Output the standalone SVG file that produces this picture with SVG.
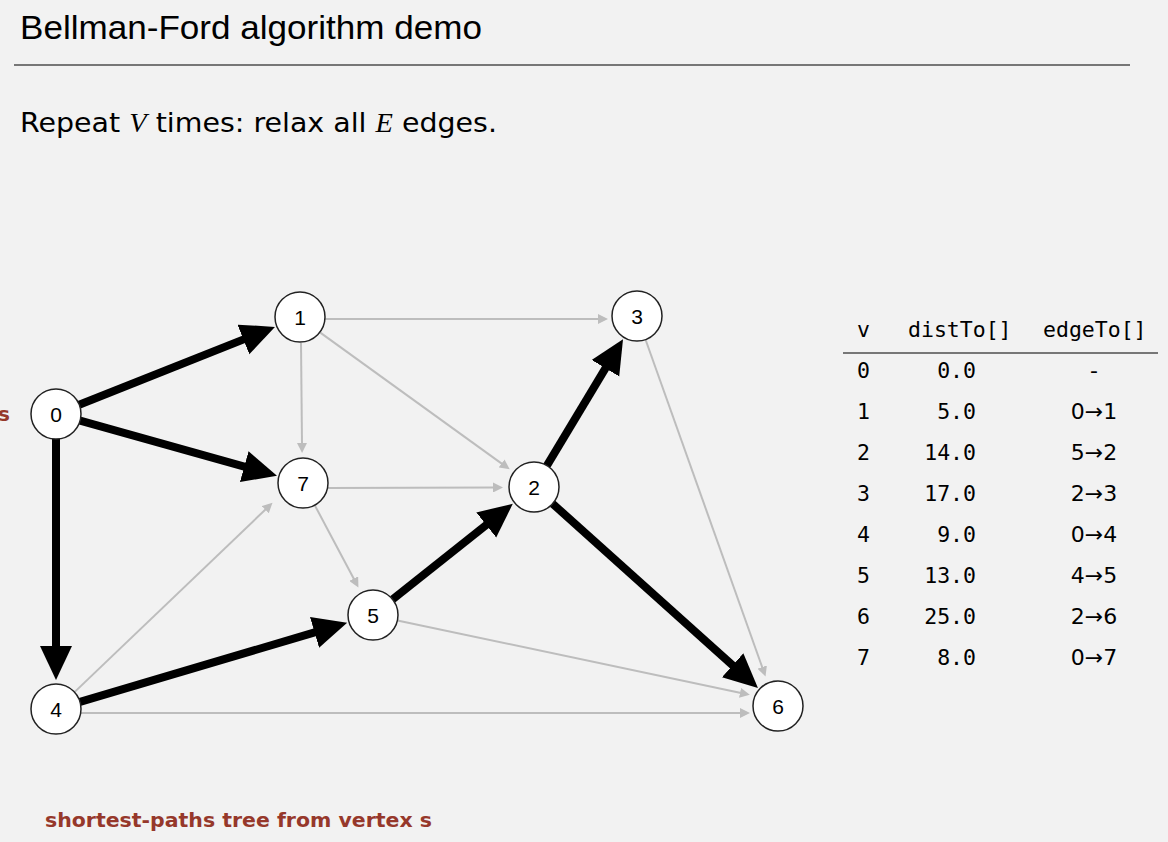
<svg xmlns="http://www.w3.org/2000/svg" width="1168" height="842" viewBox="0 0 1168 842">
<style>
.bg{fill:#f2f2f2}
.title{font-family:"Liberation Sans",Arial,sans-serif;font-size:34px;fill:#000}
.sub{font-family:"DejaVu Sans","Liberation Sans",sans-serif;font-size:27px;fill:#000}
.it{font-family:"Liberation Serif",serif;font-style:italic}
.red{font-family:"DejaVu Sans","Liberation Sans",sans-serif;font-weight:bold;fill:#96382b}
.node circle{fill:#fff;stroke:#222;stroke-width:1.5}
.node text{font-family:"Liberation Sans",Arial,sans-serif;font-size:21px;text-anchor:middle;fill:#000}
.g{stroke:#bdbdbd;stroke-width:2;fill:none;marker-end:url(#ag)}
.b{stroke:#000;stroke-width:8;fill:none;marker-end:url(#ab)}
.mono{font-family:"DejaVu Sans Mono","Liberation Mono",monospace;font-size:21.5px;fill:#000}
.et{font-family:"DejaVu Sans","Liberation Sans",sans-serif;font-size:22px;fill:#000;text-anchor:middle}
</style>
<defs>
<marker id="ab" markerUnits="userSpaceOnUse" markerWidth="36" markerHeight="34" refX="1" refY="16" orient="auto">
<path d="M0,0 L34,16 L0,32 z" fill="#000"/>
</marker>
<marker id="ag" markerUnits="userSpaceOnUse" markerWidth="12" markerHeight="10" refX="1" refY="5" orient="auto">
<path d="M0,0 L10,5 L0,10 z" fill="#bdbdbd"/>
</marker>
</defs>
<rect class="bg" x="0" y="0" width="1168" height="842"/>
<text class="title" x="20" y="39" textLength="462" lengthAdjust="spacingAndGlyphs">Bellman-Ford algorithm demo</text>
<line x1="14" y1="65" x2="1130" y2="65" stroke="#777" stroke-width="2"/>
<text class="sub" x="20" y="132" textLength="477" lengthAdjust="spacingAndGlyphs">Repeat <tspan class="it">V</tspan> times: relax all <tspan class="it">E</tspan> edges.</text>

<g id="connectors">
<line class="g" x1="325" y1="319" x2="599" y2="319"/>
<line class="g" x1="301" y1="343" x2="302" y2="444"/>
<line class="g" x1="320.3" y1="332.6" x2="502.4" y2="464.1"/>
<line class="g" x1="328" y1="488" x2="494" y2="487.5"/>
<line class="g" x1="314.7" y1="505.1" x2="354.2" y2="579.5"/>
<line class="g" x1="74.5" y1="692.1" x2="266" y2="509"/>
<line class="g" x1="397.4" y1="620.5" x2="741" y2="693"/>
<line class="g" x1="81" y1="713" x2="741" y2="713"/>
<line class="g" x1="645.5" y1="339.5" x2="762.5" y2="668"/>
<line class="b" x1="79.2" y1="404.8" x2="244.3" y2="339.1"/>
<line class="b" x1="80.1" y1="420.7" x2="245.2" y2="466.9"/>
<line class="b" x1="56" y1="439" x2="56" y2="647"/>
<line class="b" x1="80" y1="701.9" x2="315.5" y2="632.1"/>
<line class="b" x1="392.6" y1="599.4" x2="487" y2="524.3"/>
<line class="b" x1="546.9" y1="465.6" x2="606" y2="367.4"/>
<line class="b" x1="552.6" y1="503.7" x2="733.4" y2="665.9"/>
</g>

<g id="node0" class="node"><circle cx="56" cy="414" r="25"/><text x="56" y="421.5">0</text></g>
<g id="node1" class="node"><circle cx="300" cy="317" r="25"/><text x="300" y="324.5">1</text></g>
<g id="node2" class="node"><circle cx="534" cy="487" r="25"/><text x="534" y="494.5">2</text></g>
<g id="node3" class="node"><circle cx="637" cy="316" r="25"/><text x="637" y="323.5">3</text></g>
<g id="node4" class="node"><circle cx="56" cy="709" r="25"/><text x="56" y="716.5">4</text></g>
<g id="node5" class="node"><circle cx="373" cy="615" r="25"/><text x="373" y="622.5">5</text></g>
<g id="node6" class="node"><circle cx="778" cy="706" r="25"/><text x="778" y="713.5">6</text></g>
<g id="node7" class="node"><circle cx="303" cy="483" r="25"/><text x="303" y="490.5">7</text></g>

<text class="red" x="-2" y="421" font-size="20">s</text>

<g id="table">
<text class="mono" x="857" y="337">v</text>
<text class="mono" x="908" y="337">distTo[]</text>
<text class="mono" x="1043" y="337">edgeTo[]</text>
<line x1="843" y1="353" x2="1158" y2="353" stroke="#777" stroke-width="2"/>
<g class="mono">
<text x="857" y="378">0</text>
<text x="857" y="419">1</text>
<text x="857" y="460">2</text>
<text x="857" y="501">3</text>
<text x="857" y="542">4</text>
<text x="857" y="583">5</text>
<text x="857" y="624">6</text>
<text x="857" y="665">7</text>
</g>
<g class="mono" text-anchor="end">
<text x="976" y="378">0.0</text>
<text x="976" y="419">5.0</text>
<text x="976" y="460">14.0</text>
<text x="976" y="501">17.0</text>
<text x="976" y="542">9.0</text>
<text x="976" y="583">13.0</text>
<text x="976" y="624">25.0</text>
<text x="976" y="665">8.0</text>
</g>
<text class="et" x="1094" y="378">-</text>
<text class="et" x="1094" y="419">0→1</text>
<text class="et" x="1094" y="460">5→2</text>
<text class="et" x="1094" y="501">2→3</text>
<text class="et" x="1094" y="542">0→4</text>
<text class="et" x="1094" y="583">4→5</text>
<text class="et" x="1094" y="624">2→6</text>
<text class="et" x="1094" y="665">0→7</text>
</g>

<text class="red" x="45" y="827" font-size="19" textLength="387" lengthAdjust="spacingAndGlyphs">shortest-paths tree from vertex s</text>
</svg>
